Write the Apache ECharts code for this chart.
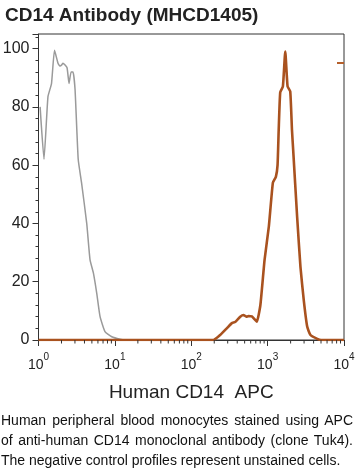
<!DOCTYPE html>
<html>
<head>
<meta charset="utf-8">
<script src="https://cdn.jsdelivr.net/npm/echarts@6/dist/echarts.min.js"></script>
<style>
  html, body { margin: 0; padding: 0; background: #fff; overflow: hidden; }
  #chart { position: absolute; left: 0; top: 0; width: 356px; height: 473px; }
  #caption { position: absolute; left: 1px; top: 410px; width: 352px; font-family: 'Liberation Sans', Arial, sans-serif; font-size: 14px; line-height: 20px; color: #111; text-align: justify; z-index: 2; }
</style>
</head>
<body>
<div id="chart"></div>
<div id="caption">Human peripheral blood monocytes stained using APC of anti-human CD14 monoclonal antibody (clone Tuk4). The negative control profiles represent unstained cells.</div>
<script>
// ---- data ----
const titleText = 'CD14 Antibody (MHCD1405)';
const xAxisName = 'Human CD14  APC';
const xTickValues = [1, 10, 100, 1000, 10000];
const xMinorTicks = [2,3,4,5,6,7,8,9, 20,30,40,50,60,70,80,90, 200,300,400,500,600,700,800,900, 2000,3000,4000,5000,6000,7000,8000,9000];
const yTickLabels = [0, 20, 40, 60, 80, 100];

// negative control (unstained) : [intensity, % of max]
const controlX = [1.05, 1.18, 1.33, 1.48, 1.62, 1.80, 1.91, 2.03, 2.09, 2.36, 2.51, 2.67, 2.83, 3.01, 3.31, 3.66, 4.28, 4.73, 5.23, 5.79, 6.40, 7.42, 9.1, 11.7, 14.5, 20];
const controlY = [80, 62, 83.5, 88, 99.4, 95, 94, 94.5, 95, 93.5, 88, 92, 92, 86, 62, 54, 40, 27.5, 23, 16, 8, 2.9, 1.1, 0.3, 0, 0];

// CD14 APC stained
const stainedX = [1, 195, 239, 292, 340, 376, 438, 483, 525, 562, 622, 687, 724, 804, 912, 1038, 1172, 1282, 1349, 1396, 1462, 1585, 1702, 1824, 1977, 2084, 2163, 2438, 2692, 2972, 3296, 3639, 4467, 5012, 10000];
const stainedY = [0, 0, 1.7, 4, 5.8, 6.2, 8, 8.6, 8, 8.2, 8.1, 6.9, 6.3, 12, 27.5, 39, 54, 56, 60, 72, 85, 87, 99, 87, 85.3, 72, 65, 42, 25, 13.7, 4.6, 1.7, 0.4, 0, 0];

const zip = (xs, ys) => xs.map((x, i) => [x, ys[i]]);

const chart = echarts.init(document.getElementById('chart'), null, { renderer: 'canvas' });
const FONT = "'Liberation Sans', Arial, Helvetica, sans-serif";

chart.setOption({
  animation: false,
  backgroundColor: '#fff',
  title: {
    text: titleText,
    left: 0, top: 1,
    textStyle: { fontFamily: FONT, fontWeight: 'bold', fontSize: 19, color: '#222' }
  },
  grid: {
    left: 38.5, right: 12, top: 34, bottom: 133,
    show: true, borderColor: '#333', borderWidth: 1, backgroundColor: 'transparent',
    containLabel: false, outerBoundsMode: 'none'
  },
  xAxis: {
    type: 'log', logBase: 10, min: 1, max: 10000,
    name: xAxisName, nameLocation: 'middle', nameGap: 43,
    nameTextStyle: { fontFamily: FONT, fontSize: 19, color: '#222' },
    axisLine: { show: true, lineStyle: { color: '#333', width: 1 } },
    axisTick: { show: true, length: 6, lineStyle: { color: '#333' } },
    splitLine: { show: false },
    axisLabel: {
      margin: 12,
      formatter: function (v) {
        const idx = xTickValues.indexOf(v);
        if (idx < 0) return '';
        return '{a|10}{b|' + idx + '}';
      },
      rich: {
        a: { fontFamily: FONT, fontSize: 14, color: '#222', lineHeight: 20, verticalAlign: 'bottom' },
        b: { fontFamily: FONT, fontSize: 10, color: '#222', lineHeight: 10, verticalAlign: 'top' }
      }
    }
  },
  yAxis: {
    type: 'value', min: 0, max: 105, interval: 20,
    axisLine: { show: true, lineStyle: { color: '#333', width: 1 } },
    axisTick: { show: true, length: 6, lineStyle: { color: '#333' } },
    minorTick: { show: true, splitNumber: 5, length: 3, lineStyle: { color: '#333' } },
    splitLine: { show: false },
    axisLabel: {
      margin: 9, showMaxLabel: false,
      fontFamily: FONT, fontSize: 16, color: '#222',
      formatter: function (v) { return yTickLabels.indexOf(v) >= 0 ? String(v) : ''; }
    }
  },
  series: [
    {
      name: 'Unstained', type: 'line', data: zip(controlX, controlY),
      symbol: 'none', smooth: 0.15,
      lineStyle: { color: '#9a9a9a', width: 1.5 }, z: 2
    },
    {
      name: 'CD14 APC', type: 'line', data: zip(stainedX, stainedY),
      symbol: 'none', smooth: 0.15,
      lineStyle: { color: '#a9521f', width: 2.6 }, z: 3
    },
    {
      name: 'minorTicks', type: 'custom', clip: false, silent: true, z: 4,
      data: xMinorTicks.map(v => [v, 0]),
      encode: { x: 0, y: 1 },
      renderItem: function (params, api) {
        const p = api.coord([api.value(0), 0]);
        return {
          type: 'line',
          shape: { x1: p[0], y1: p[1], x2: p[0], y2: p[1] + 3.5 },
          style: { stroke: '#333', lineWidth: 1 }
        };
      }
    }
  ],
  graphic: [
    { type: 'rect', shape: { x: 337, y: 62, width: 7, height: 2 }, style: { fill: '#b5602c' } }
  ]
});
</script>
</body>
</html>
